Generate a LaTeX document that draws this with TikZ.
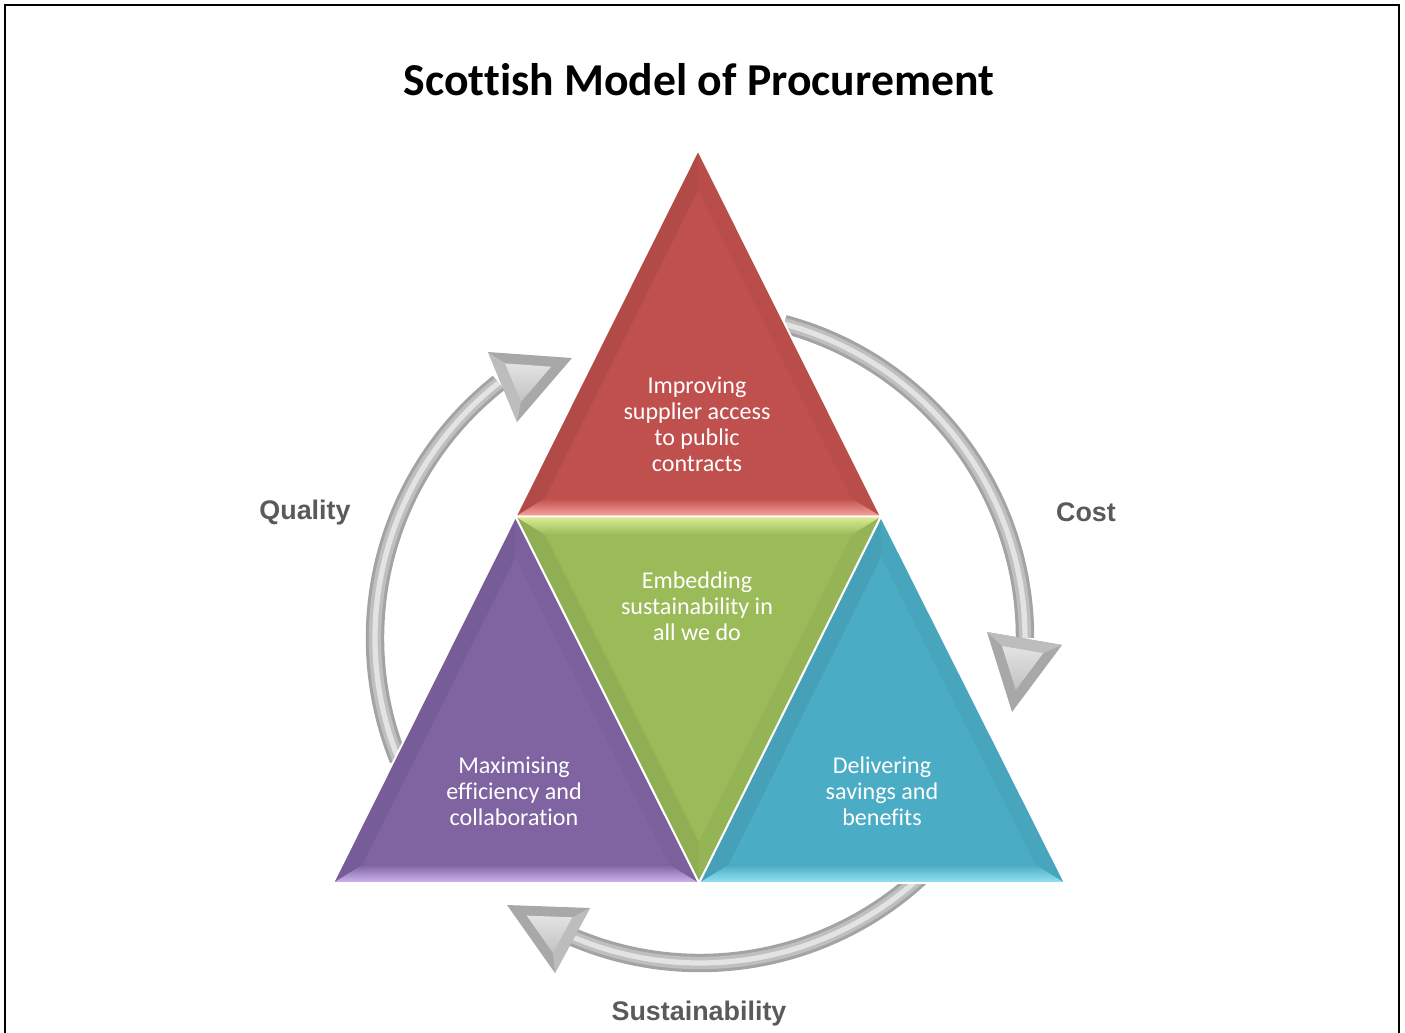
\documentclass[tikz,border=0pt]{standalone}
\usepackage{fontspec}
\setmainfont{Carlito}[Ligatures=NoCommon]
\newfontfamily\labelfont{Liberation Sans}
\usetikzlibrary{calc}
\definecolor{redbase}{HTML}{C0504D}
\definecolor{redlight}{HTML}{F9A5A3}
\definecolor{greenbase}{HTML}{9BBB59}
\definecolor{greenlight}{HTML}{DDEC94}
\definecolor{purplebase}{HTML}{8064A2}
\definecolor{purplelight}{HTML}{CFB8F0}
\definecolor{bluebase}{HTML}{4BACC6}
\definecolor{bluelight}{HTML}{95E5F4}
\definecolor{labelgray}{HTML}{5A5A5A}
\tikzset{
  ringA/.style={line width=10.5pt, draw=gray!72},
  ringB/.style={line width=7pt, draw=gray!50},
  ringC/.style={line width=3pt, draw=gray!22},
  tritext/.style={align=center, text=white, inner sep=0pt, font=\fontsize{13.7}{14.8}\selectfont},
  sidelabel/.style={text=labelgray, inner sep=0pt, font=\labelfont\bfseries\fontsize{15.3}{18}\selectfont},
}
% bevelled triangle: #1 apex, #2 #3 band edge, #4 incenter, #5 colour, #6 shading keys
\newcommand{\bevtri}[6]{%
  \coordinate (ia) at ($(#4)!0.84!(#1)$);
  \coordinate (ib) at ($(#4)!0.84!(#2)$);
  \coordinate (ic) at ($(#4)!0.84!(#3)$);
  \fill[#5] (#1) -- (#2) -- (#3) -- cycle;
  \fill[#5!93!black] (#1) -- (#2) -- (ib) -- (ia) -- cycle;
  \fill[#5!96!black] (#1) -- (#3) -- (ic) -- (ia) -- cycle;
  \shade[#6] (#2) -- (#3) -- (ic) -- (ib) -- cycle;
  \draw[white, line width=1.1pt, line join=round] (#1) -- (#2) -- (#3) -- cycle;
}
\newcommand{\ringarc}[2]{%
  \foreach \s in {ringA,ringB,ringC}{%
    \draw[\s] ($(O)+(#1:325)$) arc[start angle=#1, end angle=#2, radius=325];}%
}
% arrow head: #1 #2 #3 corners (tip is #3)
\newcommand{\arrowtri}[3]{%
  \coordinate (ha) at #1; \coordinate (hb) at #2; \coordinate (hc) at #3;
  \coordinate (hm) at ($0.333*(ha)+0.333*(hb)+0.334*(hc)$);
  \fill[gray!68, line join=round] (ha) -- (hb) -- (hc) -- cycle;
  \fill[gray!52] ($(hm)!0.55!(ha)$) -- ($(hm)!0.55!(hb)$) -- (hb) -- (ha) -- cycle;
  \shade[top color=gray!22, bottom color=gray!48] ($(hm)!0.55!(ha)$) -- ($(hm)!0.55!(hb)$) -- ($(hm)!0.55!(hc)$) -- cycle;
}
\begin{document}
\begin{tikzpicture}[x=0.02cm, y=-0.02cm]
\useasboundingbox (0,0) rectangle (1405,1032);
% frame
\draw[line width=1.5pt] (5,1040) -- (5,5) -- (1399,5) -- (1399,1040);

% title
\node[font=\bfseries\fontsize{26}{30}\selectfont, inner sep=0pt] (title) at (699,80) {Scottish Model of Procurement};

% ring
\coordinate (O) at (700,638);
\ringarc{158}{231.7}
\ringarc{285}{360}
\ringarc{45}{113}
\arrowtri{(488,352)}{(517,422)}{(572,358)}
\arrowtri{(987,632)}{(1062,645)}{(1012,712)}
\arrowtri{(590,908)}{(555,973)}{(507,905)}

% triangle corners
\coordinate (T) at (698,150);
\coordinate (L) at (333,883);
\coordinate (R) at (1065,883);
\coordinate (ML) at (515.5,516.5);
\coordinate (MR) at (881,516.5);
\coordinate (MB) at (699,883);
\coordinate (Ired) at (698,403.5);
\coordinate (Igreen) at (698,629.5);
\coordinate (Ipurple) at (516,770);
\coordinate (Iblue) at (882,770);

\bevtri{T}{ML}{MR}{Ired}{redbase}{top color=redbase, bottom color=redlight}
\bevtri{MB}{ML}{MR}{Igreen}{greenbase}{top color=greenlight, bottom color=greenbase}
\bevtri{ML}{L}{MB}{Ipurple}{purplebase}{top color=purplebase, bottom color=purplelight}
\bevtri{MR}{MB}{R}{Iblue}{bluebase}{top color=bluebase, bottom color=bluelight}

% texts
\node[tritext] (tred) at (697,424) {Improving\\supplier access\\to public\\contracts};
\node[tritext] (tgreen) at (697,606) {Embedding\\sustainability in\\all we do};
\node[tritext] (tpurple) at (514,791) {Maximising\\efficiency and\\collaboration};
\node[tritext] (tblue) at (882,791) {Delivering\\savings and\\benefits};

% side labels
\node[sidelabel] (quality) at (305,513) {Quality};
\node[sidelabel] (cost) at (1086,512) {Cost};
\node[sidelabel] (sust) at (699,1014) {Sustainability};
\end{tikzpicture}
\end{document}
